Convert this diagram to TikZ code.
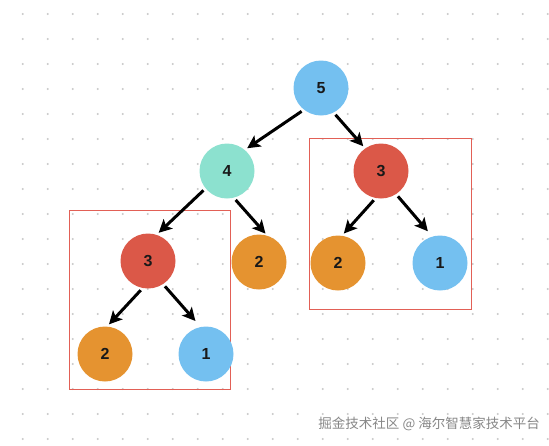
\documentclass[tikz,border=0pt]{standalone}
\usepackage{fontspec}
\setmainfont{Liberation Sans}
\newfontfamily\cjk{Noto Sans CJK SC}
\usetikzlibrary{arrows.meta}
\definecolor{nodeblue}{RGB}{116,192,240}
\definecolor{nodeteal}{RGB}{140,225,207}
\definecolor{nodered}{RGB}{219,88,72}
\definecolor{nodeorange}{RGB}{229,147,48}
\definecolor{boxred}{RGB}{226,96,86}
\definecolor{gridgray}{RGB}{200,200,200}
\definecolor{markgray}{RGB}{135,135,135}

\begin{document}
\begin{tikzpicture}[x=1pt, y=-1pt, >={Stealth[length=13pt, width=13pt, inset=3pt]},
  num/.style={circle, minimum size=55pt, inner sep=0pt, outer sep=0pt, text=black!90,
    font=\fontsize{16}{16}\selectfont\bfseries},
  link/.style={->, line width=3pt, shorten <=3pt, shorten >=3pt},
  subtree/.style={draw=boxred, line width=0.9pt}]
  \useasboundingbox (0,0) rectangle (549,445);
  % dotted background grid, 25px apart
  \foreach \i in {0,...,21} \foreach \j in {0,...,17} {
    \pgfmathsetmacro{\gx}{22.7 + 25*\i}
    \pgfmathsetmacro{\gy}{14 + 25*\j}
    \fill[gridgray] (\gx,\gy) circle (1.1pt);
  }
  % boxes round the two equal subtrees
  \draw[subtree] (69,210) rectangle (230,389);
  \draw[subtree] (309,138) rectangle (471,309);
  % the tree
  \node[num, fill=nodeblue]   (n5)  at (321,88)  {5};
  \node[num, fill=nodeteal]   (n4)  at (227,171) {4};
  \node[num, fill=nodered]    (n3r) at (381,171) {3};
  \node[num, fill=nodered]    (n3l) at (148,261) {3};
  \node[num, fill=nodeorange] (n2m) at (259,262) {2};
  \node[num, fill=nodeorange] (n2r) at (338,263) {2};
  \node[num, fill=nodeblue]   (n1r) at (440,263) {1};
  \node[num, fill=nodeorange] (n2l) at (105,354) {2};
  \node[num, fill=nodeblue]   (n1l) at (206,354) {1};
  % edges
  \draw[link] (n5.232) -- (n4.50);
  \draw[link] (n5.297) -- (n3r.125);
  \draw[link] (n4.219) -- (n3l.72);
  \draw[link] (n4.284) -- (n2m.72);
  \draw[link] (n3r.259) -- (n2r.82);
  \draw[link, shorten >=7pt] (n3r.303) -- (n1r.106);
  \draw[link] (n3l.259) -- (n2l.86);
  \draw[link, shorten >=8pt] (n3l.303) -- (n1l.101);
  % watermark
  \node[text=markgray, font=\cjk\fontsize{13.5}{14}\selectfont, anchor=east, inner sep=0pt]
    (mark) at (540,424) {掘金技术社区 @ 海尔智慧家技术平台};
\end{tikzpicture}
\end{document}
